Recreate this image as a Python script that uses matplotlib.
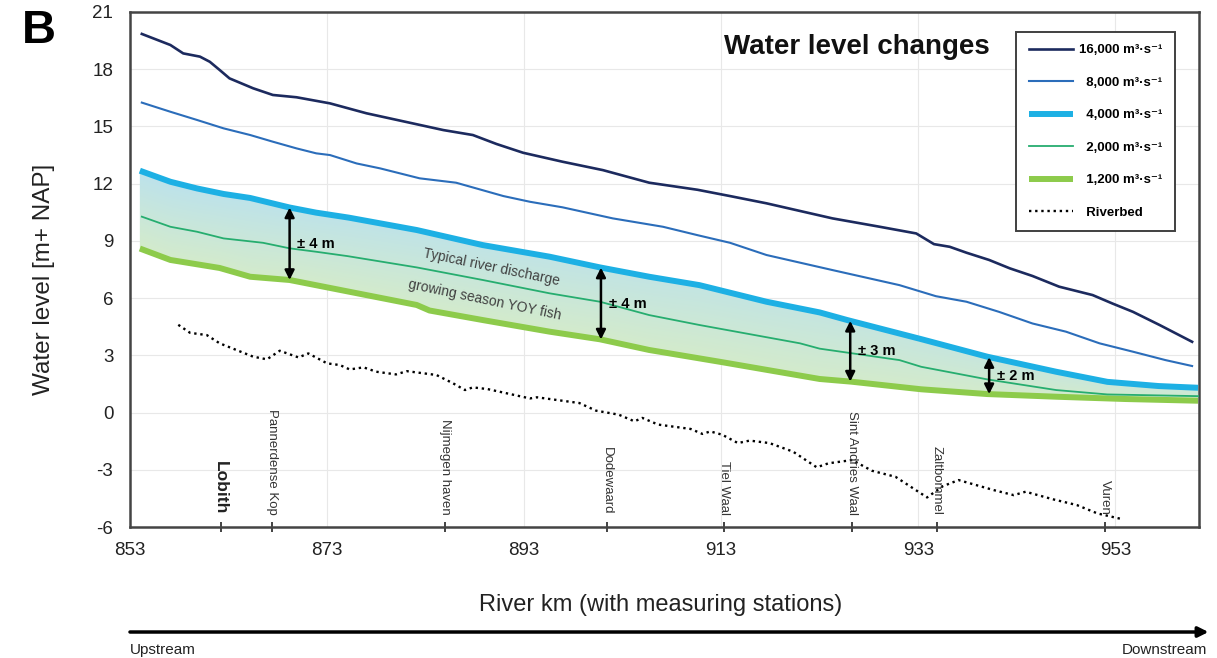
import numpy as np
import matplotlib
matplotlib.use('Agg')
import matplotlib.pyplot as plt

plt.rcParams['font.family'] = ['Liberation Sans', 'DejaVu Sans']
plt.rcParams['axes.unicode_minus'] = False

# water level per discharge (river km, m+NAP)
km_16000 = [854.2, 857.1, 858.4, 860.1, 861.1, 862.1, 863.1, 865.5, 867.5, 869.9, 873.3, 877.0,
            881.7, 884.8, 887.8, 890.2, 892.9, 896.9, 901.0, 905.7, 910.6, 913.9, 917.6, 924.3,
            929.1, 932.8, 934.6, 936.2, 937.9, 940.2, 942.3, 944.6, 947.3, 950.7, 952.7, 954.8,
            957.5, 960.8]
wl_16000 = [19.85, 19.27, 18.83, 18.66, 18.39, 17.96, 17.52, 17.0, 16.65, 16.53, 16.21, 15.69,
            15.16, 14.81, 14.55, 14.08, 13.62, 13.15, 12.71, 12.05, 11.68, 11.35, 10.97, 10.18,
            9.74, 9.39, 8.83, 8.69, 8.38, 8.0, 7.56, 7.16, 6.6, 6.16, 5.72, 5.28,
            4.59, 3.71]

km_8000 = [854.2, 857.1, 859.8, 862.5, 865.2, 867.5, 869.9, 871.9, 873.3, 876.0, 878.4, 882.4,
           886.1, 890.9, 893.6, 896.9, 902.0, 907.1, 910.6, 913.9, 917.6, 924.3, 931.1, 934.8,
           937.9, 941.2, 944.6, 948.0, 951.4, 954.8, 958.1, 960.8]
wl_8000 = [16.25, 15.77, 15.34, 14.9, 14.55, 14.2, 13.85, 13.59, 13.5, 13.06, 12.8, 12.28,
           12.05, 11.35, 11.05, 10.76, 10.18, 9.74, 9.3, 8.9, 8.26, 7.47, 6.68, 6.1,
           5.81, 5.28, 4.67, 4.24, 3.63, 3.19, 2.75, 2.44]

km_4000 = [854.0, 857.1, 859.8, 862.5, 865.2, 869.2, 871.9, 875.2, 882.1, 888.8, 895.6, 900.7,
           905.7, 910.8, 917.6, 923.0, 925.8, 933.3, 940.0, 947.0, 952.2, 957.4, 961.4]
wl_4000 = [12.68, 12.1, 11.75, 11.46, 11.25, 10.75, 10.48, 10.22, 9.57, 8.78, 8.17, 7.61,
           7.12, 6.68, 5.81, 5.25, 4.85, 3.85, 2.93, 2.14, 1.61, 1.39, 1.3]

km_2000 = [854.2, 857.1, 859.8, 862.5, 866.5, 869.2, 871.9, 875.1, 882.1, 888.8, 895.6, 900.7,
           905.7, 910.8, 921.0, 923.0, 931.1, 933.3, 940.0, 947.0, 952.2, 961.4]
wl_2000 = [10.27, 9.74, 9.48, 9.13, 8.9, 8.61, 8.43, 8.2, 7.61, 6.95, 6.25, 5.81,
           5.11, 4.59, 3.63, 3.35, 2.75, 2.4, 1.74, 1.18, 0.95, 0.86]

km_1200 = [854.0, 857.1, 862.1, 865.2, 869.2, 875.3, 882.1, 883.4, 888.8, 895.6, 900.7, 905.7,
           913.0, 923.0, 926.2, 933.3, 940.0, 947.0, 954.0, 961.4]
wl_1200 = [8.6, 8.0, 7.58, 7.12, 6.95, 6.33, 5.64, 5.35, 4.85, 4.24, 3.84, 3.28,
           2.65, 1.76, 1.62, 1.22, 0.97, 0.83, 0.71, 0.62]

km_bed = [857.9, 859.1, 860.8, 862.1, 863.8, 865.5, 866.9, 868.2, 870.1, 871.1, 873.0, 874.3,
          875.3, 876.7, 878.0, 880.0, 881.1, 884.1, 885.8, 887.0, 887.8, 889.3, 893.6, 894.3,
          898.6, 900.3, 902.6, 904.2, 905.0, 906.6, 909.9, 911.1, 911.9, 913.1, 914.7, 915.9,
          917.9, 920.3, 922.7, 923.9, 926.3, 928.3, 930.7, 933.9, 935.5, 937.1, 940.7, 942.7,
          943.9, 946.7, 949.1, 951.2, 953.8]
bed = [4.6, 4.18, 4.06, 3.63, 3.28, 2.93, 2.79, 3.24, 2.89, 3.1, 2.58, 2.49,
       2.26, 2.37, 2.14, 2.0, 2.17, 1.97, 1.53, 1.18, 1.32, 1.23, 0.74, 0.8,
       0.5, 0.1, -0.11, -0.46, -0.28, -0.63, -0.86, -1.12, -0.99, -1.16, -1.6, -1.47,
       -1.6, -2.05, -2.87, -2.66, -2.49, -3.05, -3.37, -4.45, -3.86, -3.54, -4.07, -4.33,
       -4.15, -4.55, -4.85, -5.29, -5.6]

stations = ['Lobith', 'Pannerdense Kop', 'Nijmegen haven', 'Dodewaard', 'Tiel Waal',
            'Sint Andries Waal', 'Zaltbommel', 'Vuren']
station_km = [862.2, 867.4, 885.0, 901.4, 913.3, 926.3, 934.9, 952.0]

# range arrows between 4,000 and 1,200 lines
arrow_km = [869.2, 900.8, 926.1, 940.2]
arrow_labels = ['± 4 m', '± 4 m', '± 3 m', '± 2 m']

labels = ['16,000 m³·s⁻¹', '  8,000 m³·s⁻¹', '  4,000 m³·s⁻¹', '  2,000 m³·s⁻¹',
          '  1,200 m³·s⁻¹', '  Riverbed']

fig = plt.figure(figsize=(12.17, 6.58), dpi=100)
ax = fig.add_axes([130/1217, 1-527/658, 1069/1217, 515/658])

# gradient fill between 1,200 and 4,000
xg = np.union1d(km_4000, km_1200)
lo = np.interp(xg, km_1200, wl_1200)
hi = np.interp(xg, km_4000, wl_4000)
poly = ax.fill_between(xg, lo, hi, facecolor='none', edgecolor='none')
gx, gy = np.meshgrid(np.linspace(853, 962, 400), np.linspace(0, 13, 300))
glo = np.interp(gx, km_1200, wl_1200)
ghi = np.interp(gx, km_4000, wl_4000)
t = np.clip((gy - glo) / (ghi - glo), 0, 1)
w = (t * (1 - 0.55 * (gx - 853) / 109))[..., None]
blue = np.array([188, 226, 236]) / 255
green = np.array([212, 235, 203]) / 255
im = ax.imshow(green * (1 - w) + blue * w, extent=[853, 962, 0, 13], origin='lower',
               aspect='auto', zorder=1)
im.set_clip_path(poly.get_paths()[0], transform=ax.transData)

h1, = ax.plot(km_16000, wl_16000, color='#1c2a5e', lw=1.9, zorder=3)
h2, = ax.plot(km_8000, wl_8000, color='#2b6dba', lw=1.5, zorder=3)
h3, = ax.plot(km_4000, wl_4000, color='#1db0e4', lw=4.3, zorder=3, solid_capstyle='butt')
h5, = ax.plot(km_1200, wl_1200, color='#8dcb4b', lw=4.3, zorder=3, solid_capstyle='butt')
h4, = ax.plot(km_2000, wl_2000, color='#26ad6f', lw=1.3, zorder=4)
h6, = ax.plot(km_bed, bed, color='black', lw=1.7, ls=(0, (1, 1.6)), zorder=3)

for k, lab in zip(arrow_km, arrow_labels):
    top = np.interp(k, km_4000, wl_4000)
    bot = np.interp(k, km_1200, wl_1200)
    ax.annotate('', xy=(k, top), xytext=(k, bot),
                arrowprops=dict(arrowstyle='<|-|>', color='black', lw=1.8,
                                mutation_scale=14, shrinkA=0, shrinkB=0), zorder=5)
    ax.text(k + 0.8, (top + bot) / 2, lab, fontsize=10.5, fontweight='bold',
            ha='left', va='center', zorder=5)

ax.text(889.7, 7.63, 'Typical river discharge', fontsize=10, color='#404040',
        rotation=-11.7, rotation_mode='anchor', ha='center', va='center', zorder=5)
ax.text(889.0, 5.9, 'growing season YOY fish', fontsize=10, color='#404040',
        rotation=-11.7, rotation_mode='anchor', ha='center', va='center', zorder=5)

for name, k in zip(stations, station_km):
    if name == 'Lobith':
        ax.text(k, -5.35, name, rotation=270, ha='center', va='bottom', fontsize=12.5,
                fontweight='bold', color='#222222', zorder=5)
    else:
        ax.text(k, -5.35, name, rotation=270, ha='center', va='bottom', fontsize=9.5,
                color='#333333', zorder=5)

ax.set_xlim(853, 961.5)
ax.set_ylim(-6, 21)
ax.set_xticks(np.arange(853, 961, 20))
ax.set_yticks(np.arange(-6, 22, 3))
ax.set_xticks(station_km, minor=True)
ax.tick_params(which='major', length=0, labelsize=13.5, labelcolor='#222222')
ax.tick_params(axis='x', which='major', pad=11)
ax.tick_params(axis='y', which='major', pad=12)
ax.tick_params(axis='x', which='minor', direction='inout', length=7, width=1.2, color='#222222')
ax.grid(True, which='major', color='#e8e8e8', lw=0.8)
ax.set_axisbelow(True)
for s in ax.spines.values():
    s.set_color('#444444')
    s.set_linewidth(1.8)

ax.set_ylabel('Water level [m+ NAP]', fontsize=17.5, color='#222222')
ax.yaxis.set_label_coords(-0.07, 0.48)
ax.set_xlabel('River km (with measuring stations)', fontsize=17, color='#222222')
ax.xaxis.set_label_coords(0.496, -0.13)

ax.text(0.5557, 0.932, 'Water level changes', transform=ax.transAxes, fontsize=20,
        fontweight='bold', ha='left', va='center', color='#111111', zorder=6)

leg = ax.legend([h1, h2, h3, h4, h5, h6], labels, loc='upper right',
                bbox_to_anchor=(0.9776, 0.9617), borderaxespad=0, fancybox=False,
                prop=dict(family=['Liberation Sans', 'DejaVu Sans'], weight='bold', size=9.5),
                labelspacing=1.53, handlelength=3.3, handletextpad=0.5,
                borderpad=0.95, framealpha=1)
leg.get_frame().set_edgecolor('#404040')
leg.get_frame().set_linewidth(1.4)

fig.text(0.018, 0.953, 'B', fontsize=34, fontweight='bold', ha='left', va='center')

ax.annotate('', xy=(0.993, 0.0395), xycoords='figure fraction',
            xytext=(0.1068, 0.0395), textcoords='figure fraction',
            arrowprops=dict(arrowstyle='-|>', color='black', lw=2.5, mutation_scale=15,
                            shrinkA=0, shrinkB=0), annotation_clip=False)
fig.text(0.1068, 0.012, 'Upstream', fontsize=11, ha='left', va='center', color='#222222')
fig.text(0.992, 0.012, 'Downstream', fontsize=11, ha='right', va='center', color='#222222')

fig.savefig('out.png', dpi=100)
